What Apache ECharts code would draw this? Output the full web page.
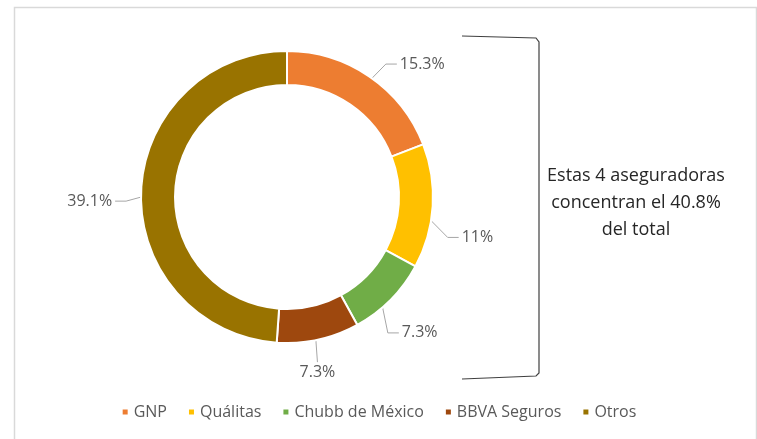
<!DOCTYPE html>
<html><head><meta charset="utf-8">
<script src="https://cdn.jsdelivr.net/npm/echarts@6/dist/echarts.min.js"></script>
<style>html,body{margin:0;padding:0;background:#fff}#c{width:757px;height:439px}</style>
</head><body><div id="c"></div>
<script>
const categories = ['GNP', 'Quálitas', 'Chubb de México', 'BBVA Seguros', 'Otros'];
const values = [15.3, 11, 7.3, 7.3, 39.1];
const colors = ['#ED7D31', '#FFC000', '#70AD47', '#9E480E', '#997300'];
const noteLines = ['Estas 4 aseguradoras', 'concentran el 40.8%', 'del total'];
// label nudges (Excel-style placement) and leader-line style
const labelShift = [[2, 4], [-8, 30], [-20, 19], [-40, 13], [8, 10]];
const lineMode = ['side', 'side', 'side', 'down', 'side'];

const chart = echarts.init(document.getElementById('c'), null, {renderer: 'canvas'});
const font = '"Open Sans", sans-serif';

function layoutLabel(p) {
  const [dx, dy] = labelShift[p.dataIndex];
  const r = p.labelRect;
  const lx = r.x + dx, ly = r.y + dy;
  const pts = p.labelLinePoints;
  const res = {dx: dx, dy: dy};
  if (!pts) return res;
  const a = pts[0], b = pts[1];
  const len = Math.hypot(b[0] - a[0], b[1] - a[1]) || 1;
  const ux = (b[0] - a[0]) / len, uy = (b[1] - a[1]) / len;
  const s = [a[0] - ux * 17, a[1] - uy * 17];
  let e, m;
  if (lineMode[p.dataIndex] === 'down') {
    e = [lx + r.width / 2, ly - 2];
    m = e;
  } else if (lx > a[0]) {
    e = [lx - 3, ly + r.height / 2];
    m = [e[0] - 11, e[1]];
  } else {
    e = [lx + r.width + 3, ly + r.height / 2];
    m = [e[0] + 11, e[1]];
  }
  res.labelLinePoints = [s, m, e];
  return res;
}

chart.setOption({
  animation: false,
  color: colors,
  textStyle: {fontFamily: font},
  legend: {
    bottom: 14, left: 'center',
    itemWidth: 7, itemHeight: 7, itemGap: 20, icon: 'rect',
    textStyle: {fontFamily: font, fontSize: 16, color: '#595959'},
    data: categories
  },
  graphic: [
    {type: 'rect', left: 12, top: 5, shape: {width: 742, height: 440}, style: {fill: 'none', stroke: '#d9d9d9', lineWidth: 1.5}, silent: true},
    {type: 'polyline', shape: {points: [[462, 36], [536, 38], [539, 42], [539, 373], [536, 376], [462, 379]]}, style: {fill: 'none', stroke: '#404040', lineWidth: 1.2}, silent: true},
    {type: 'text', x: 636, y: 203, style: {text: noteLines.join('\n'), align: 'center', verticalAlign: 'middle', font: '18px "Open Sans", sans-serif', fill: '#262626', lineHeight: 27}, silent: true}
  ],
  series: [{
    type: 'pie',
    center: [287, 197],
    radius: [112, 146],
    startAngle: 90,
    clockwise: true,
    avoidLabelOverlap: false,
    itemStyle: {borderColor: '#fff', borderWidth: 2},
    label: {
      show: true, position: 'outside',
      formatter: p => p.value + '%',
      fontFamily: font, fontSize: 16, color: '#595959'
    },
    labelLine: {show: true, length: 20, length2: 12, lineStyle: {color: '#a6a6a6', width: 1}},
    labelLayout: layoutLabel,
    data: categories.map((n, i) => ({name: n, value: values[i]}))
  }]
});
</script></body></html>
